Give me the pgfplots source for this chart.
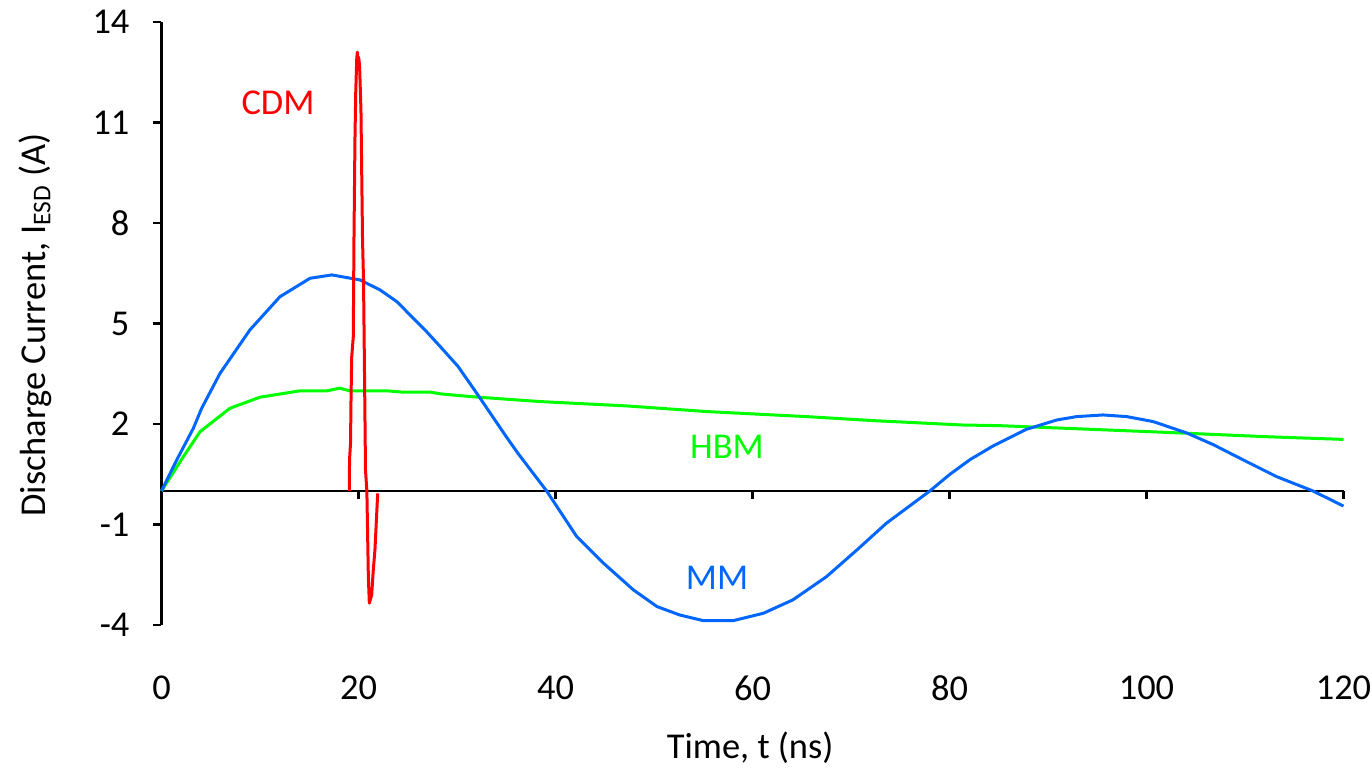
\documentclass[border=0pt]{standalone}
\usepackage{pgfplots}
\pgfplotsset{compat=1.18}
\usepackage{fontspec}
\setmainfont{Carlito}
\definecolor{cdm}{RGB}{255,0,0}
\definecolor{hbm}{RGB}{0,255,0}
\definecolor{mm}{RGB}{0,102,255}
\newcommand{\fs}{\fontsize{18.2}{21}\selectfont}
\begin{document}
\begin{tikzpicture}
\useasboundingbox (-80.75pt,-72pt) rectangle (605.25pt,312.5pt);
\begin{axis}[
  at={(0pt,0pt)}, anchor=south west,
  scale only axis, width=591pt, height=301.5pt,
  xmin=0, xmax=120, ymin=-4, ymax=14,
  axis y line*=left, axis x line*=bottom,
  x axis line style={draw=none},
  y axis line style={line width=1.4pt, black},
  xtick={0,20,...,120},
  ytick={-4,-1,2,5,8,11,14},
  xtick style={draw=none},
  ytick style={draw=black, line width=1.4pt},
  tick align=outside, major tick length=4pt,
  font=\fs,
  tick label style={font=\fs},
  /pgf/number format/assume math mode=true,
  yticklabel style={anchor=east, xshift=-8.5pt},
  xticklabel style={anchor=center, yshift=-27.5pt},
  xlabel={Time, t (ns)},
  ylabel={Discharge Current, I\textsubscript{ESD} (A)},
  xlabel style={at={(axis description cs:0.498,0)}, anchor=center, yshift=-61.5pt},
  ylabel style={at={(axis description cs:-0.107,0.4975)}, anchor=center},
  clip=false,
]
\draw[black, line width=1.4pt] (axis cs:0,0) -- (axis cs:120,0);
\pgfplotsinvokeforeach{20,40,...,120}{\draw[black, line width=1.4pt] (axis cs:#1,0) -- ([yshift=-4pt]axis cs:#1,0);}

\addplot[hbm, line width=1.5pt, line join=round] coordinates {
(0,0) (2.21,1.02) (3.91,1.77) (6.95,2.47) (10.0,2.80) (14.06,2.99) (16.8,2.99)
(18.1,3.07) (19.1,2.99) (22.9,2.99) (24.5,2.95) (27.3,2.95) (28.3,2.90)
(31.7,2.81) (38.4,2.67) (47.2,2.54) (55.4,2.37) (65.5,2.22) (72.3,2.10)
(81.3,1.97) (85.1,1.95) (91.9,1.87) (102.0,1.75) (112.2,1.62) (120,1.54)
};
\addplot[mm, line width=1.5pt, line join=round] coordinates {
(0,0) (1.5,0.90) (3.23,1.87) (4.08,2.47) (5.94,3.51) (8.98,4.81) (12.03,5.80)
(15.08,6.35) (17.3,6.45) (20.15,6.3) (22.2,6.0) (23.9,5.65) (26.9,4.76)
(28.3,4.31) (30.1,3.72) (32.0,2.92) (35.0,1.62) (36.2,1.12) (39.1,0)
(42.15,-1.36) (44.85,-2.15) (47.9,-2.95) (50.3,-3.45) (52.6,-3.70) (55.0,-3.87)
(58.05,-3.87) (61.1,-3.65) (64.1,-3.25) (67.5,-2.56) (70.6,-1.76) (73.6,-0.96)
(78.0,0) (80.05,0.5) (82.1,0.94) (84.4,1.34) (87.8,1.84) (90.9,2.12)
(92.9,2.22) (95.6,2.27) (98.0,2.22) (100.7,2.07) (104.1,1.73) (106.8,1.38)
(109.8,0.93) (113.2,0.43) (116.9,0) (120,-0.45)
};
\addplot[cdm, line width=1.5pt, line join=round] coordinates {
(19.07,0) (19.09,0.93) (19.19,1.43) (19.24,2.72) (19.31,4.0) (19.47,4.6)
(19.54,7.49) (19.64,10.48) (19.72,11.9) (19.82,12.9) (19.88,13.1) (19.94,12.9)
(20.0,12.95) (20.06,12.85) (20.12,12.6) (20.25,11.37) (20.41,7.49) (20.51,6.3)
(20.61,3.52) (20.71,0.63) (20.85,0) (21.0,-2.56) (21.1,-3.35) (21.34,-3.1)
(21.5,-2.36) (21.67,-1.76) (21.85,-0.67) (21.95,-0.07)
};
\node[cdm, font=\fs] at (axis cs:11.83,11.58) {CDM};
\node[hbm, font=\fs] at (axis cs:57.4,1.31) {HBM};
\node[mm, font=\fs] at (axis cs:56.4,-2.6) {MM};
\end{axis}
\end{tikzpicture}
\end{document}
